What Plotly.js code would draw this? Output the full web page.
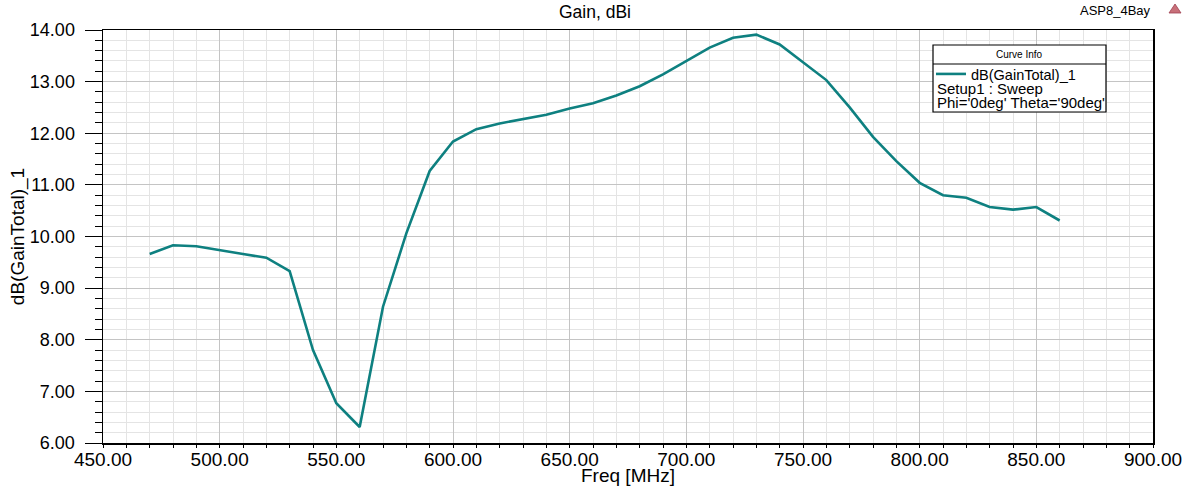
<!DOCTYPE html>
<html>
<head>
<meta charset="utf-8">
<script src="https://cdn.plot.ly/plotly-3.0.1.min.js"></script>
<style>html,body{margin:0;padding:0;background:#fff;}#chart{width:1192px;height:486px;}</style>
</head>
<body>
<div id="chart"></div>
<script>
const freqMHz = [470,480,490,500,510,520,530,540,550,560,570,580,590,600,610,620,630,640,650,660,670,680,690,700,710,720,730,740,750,760,770,780,790,800,810,820,830,840,850,860];
const gainDbi = [9.66,9.83,9.81,9.73,9.66,9.59,9.33,7.80,6.77,6.31,8.64,10.06,11.27,11.84,12.08,12.19,12.28,12.36,12.48,12.58,12.73,12.91,13.14,13.40,13.66,13.85,13.91,13.72,13.38,13.03,12.50,11.93,11.46,11.04,10.80,10.75,10.57,10.52,10.57,10.31];
const xTickVals = [450,500,550,600,650,700,750,800,850,900];
const yTickVals = [6,7,8,9,10,11,12,13,14];
const traceName = "dB(GainTotal)_1";
const infoLines = ["Setup1 : Sweep", "Phi='0deg' Theta='90deg'"];

const FONT = "Liberation Sans, Arial, sans-serif";
const L = 103, R = 39, T = 30, B = 43;
const W = 1192, H = 486;
const pw = W - L - R, ph = H - T - B;
const px = x => (x - L) / pw;          // pixel -> paper x
const py = y => (H - B - y) / ph;      // pixel -> paper y

const trace = {
  x: freqMHz, y: gainDbi, type: 'scatter', mode: 'lines',
  name: traceName,
  line: {color: '#0e8080', width: 2.6},
  showlegend: true
};

const triPath = 'M ' + px(1169) + ' ' + py(13) + ' L ' + px(1181) + ' ' + py(13) + ' L ' + px(1175) + ' ' + py(4) + ' Z';

const layout = {
  width: W, height: H,
  margin: {l: L, r: R, t: T, b: B},
  paper_bgcolor: '#ffffff', plot_bgcolor: '#ffffff',
  font: {family: FONT, color: '#000'},
  title: {text: 'Gain, dBi', font: {family: FONT, size: 17.5, color: '#000'}, x: 595 / W, xref: 'container', xanchor: 'center', y: 1 - 11.5 / H, yref: 'container', yanchor: 'middle'},
  xaxis: {
    range: [450, 900], tickvals: xTickVals, ticktext: xTickVals.map(v => v.toFixed(2)),
    ticks: 'outside', ticklen: 3, tickcolor: '#000', tickwidth: 1,
    ticklabelstandoff: -4,
    showline: true, linecolor: '#000', linewidth: 1.5, mirror: true,
    showgrid: true, gridcolor: '#c4c4c4', gridwidth: 1,
    minor: {dtick: 10, showgrid: true, gridcolor: '#e4e4e4', gridwidth: 1, ticks: 'outside', ticklen: 3, tickcolor: '#000'},
    tickfont: {family: FONT, size: 19, color: '#000'},
    zeroline: false,
    title: {text: 'Freq [MHz]', font: {family: FONT, size: 19, color: '#000'}, standoff: 0}
  },
  yaxis: {
    range: [6, 14], tickvals: yTickVals, ticktext: yTickVals.map(v => v.toFixed(2)),
    ticks: 'outside', ticklen: 17, tickcolor: '#000', tickwidth: 1,
    ticklabelstandoff: 6,
    showline: true, linecolor: '#000', linewidth: 1.5, mirror: true,
    showgrid: true, gridcolor: '#c4c4c4', gridwidth: 1,
    minor: {dtick: 0.2, showgrid: true, gridcolor: '#e4e4e4', gridwidth: 1, ticks: 'outside', ticklen: 7, tickcolor: '#000'},
    tickfont: {family: FONT, size: 18, color: '#000'},
    zeroline: false,
    title: {text: 'dB(GainTotal)_1', font: {family: FONT, size: 19, color: '#000'}, standoff: 0}
  },
  legend: {
    x: px(931), y: py(58), xanchor: 'left', yanchor: 'top',
    bgcolor: 'rgba(0,0,0,0)', borderwidth: 0,
    font: {family: FONT, size: 14.5, color: '#000'},
    itemwidth: 30, tracegroupgap: 0
  },
  shapes: [
    {type: 'rect', xref: 'paper', yref: 'paper', x0: px(933), x1: px(1106), y0: py(45), y1: py(112), line: {color: '#000', width: 1.2}, fillcolor: '#ffffff', layer: 'above'},
    {type: 'line', xref: 'paper', yref: 'paper', x0: px(933), x1: px(1106), y0: py(64), y1: py(64), line: {color: '#000', width: 1}, layer: 'above'},
    {type: 'path', xref: 'paper', yref: 'paper', path: triPath, fillcolor: '#c8707a', line: {color: '#a04050', width: 0.8}, layer: 'above'}
  ],
  annotations: [
    {text: 'Curve Info', xref: 'paper', yref: 'paper', x: px(1019), y: py(55), xanchor: 'center', yanchor: 'middle', showarrow: false, font: {family: FONT, size: 10, color: '#000'}},
    {text: infoLines[0], xref: 'paper', yref: 'paper', x: px(935), y: py(88), xanchor: 'left', yanchor: 'middle', showarrow: false, font: {family: FONT, size: 15, color: '#000'}},
    {text: infoLines[1], xref: 'paper', yref: 'paper', x: px(935), y: py(103), xanchor: 'left', yanchor: 'middle', showarrow: false, font: {family: FONT, size: 15, color: '#000'}},
    {text: 'ASP8_4Bay', xref: 'paper', yref: 'paper', x: px(1153), y: py(11), xanchor: 'right', yanchor: 'middle', showarrow: false, font: {family: FONT, size: 13, color: '#000'}}
  ]
};

Plotly.newPlot('chart', [trace], layout, {displayModeBar: false, staticPlot: true});
</script>
</body>
</html>
